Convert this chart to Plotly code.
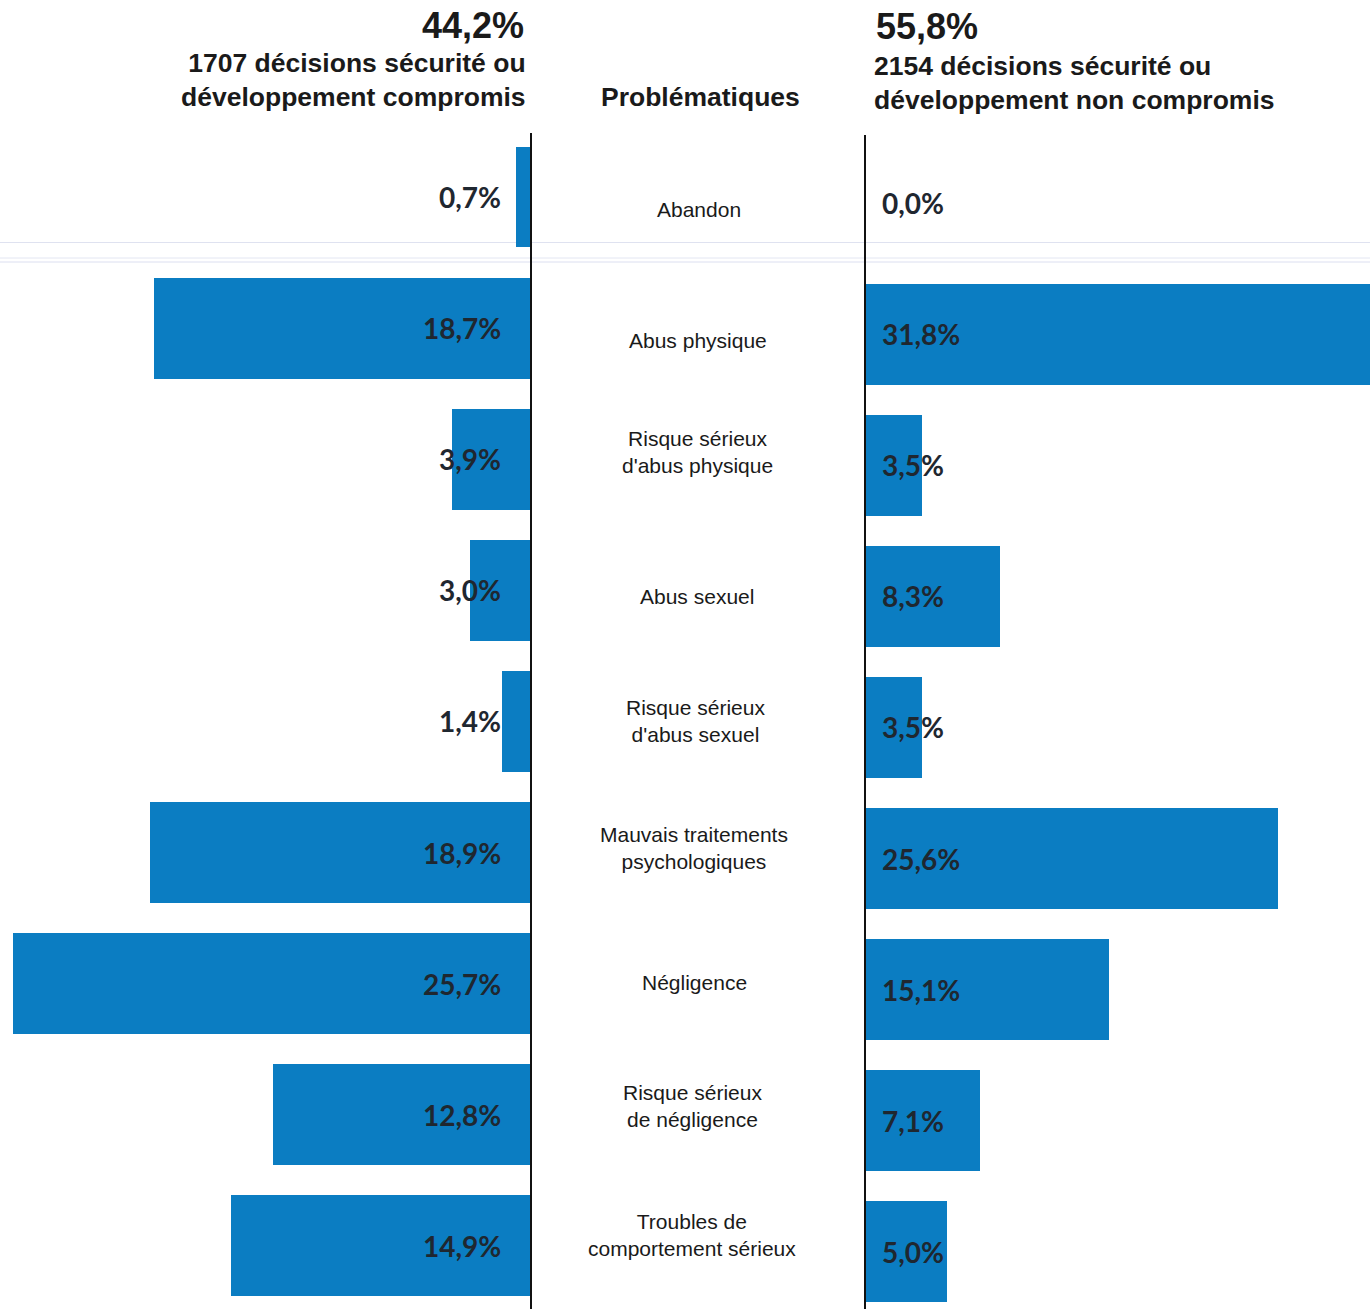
import plotly.graph_objects as go

W, H = 1370, 1309

categories = ["Abandon", "Abus physique", "Risque sérieux<br>d'abus physique", "Abus sexuel",
              "Risque sérieux<br>d'abus sexuel", "Mauvais traitements<br>psychologiques",
              "Négligence", "Risque sérieux<br>de négligence", "Troubles de<br>comportement sérieux"]
compromis = [0.7, 18.7, 3.9, 3.0, 1.4, 18.9, 25.7, 12.8, 14.9]
non_compromis = [0.0, 31.8, 3.5, 8.3, 3.5, 25.6, 15.1, 7.1, 5.0]
pct_compromis = 44.2
pct_non_compromis = 55.8
n_compromis = 1707
n_non_compromis = 2154

BAR = "#0b7dc2"
TXT = "#1a1a1a"
VAL = "#1f2730"

def fmt(v):
    return f"{v:.1f}%".replace(".", ",")

def px(x):
    return x / W

def py(y):
    return 1 - y / H

idx = list(range(len(categories)))

fig = go.Figure()
fig.add_trace(go.Bar(x=compromis, y=idx, orientation="h", marker=dict(color=BAR, line=dict(width=0)),
                     width=0.77, xaxis="x", yaxis="y", hoverinfo="skip"))
fig.add_trace(go.Bar(x=non_compromis, y=idx, orientation="h", marker=dict(color=BAR, line=dict(width=0)),
                     width=0.77, xaxis="x2", yaxis="y2", hoverinfo="skip"))

left_axis_px = 530
right_axis_px = 866
left_scale = 20.1
right_scale = 16.1

vfont = dict(family="Lato, Open Sans, sans-serif", size=28, color=VAL)
ann = []
for i, v in enumerate(compromis):
    ann.append(dict(x=0, y=i, xref="x", yref="y", text="<b>" + fmt(v) + "</b>", showarrow=False,
                    xanchor="right", yanchor="middle", xshift=-27, font=vfont))
for i, v in enumerate(non_compromis):
    ann.append(dict(x=0, y=i, xref="x2", yref="y2", text="<b>" + fmt(v) + "</b>", showarrow=False,
                    xanchor="left", yanchor="middle", xshift=14, font=vfont))

label_yshift = [-13, -12, 7, -6, 0, 5, 1, 9, 11]
label_x = [699, 698, 697, 697, 696, 694, 694, 692, 692]
for i, c in enumerate(categories):
    ann.append(dict(x=px(label_x[i]), y=i, xref="paper", yref="y", text=c, showarrow=False,
                    xanchor="center", yanchor="middle", yshift=label_yshift[i],
                    font=dict(family="Liberation Sans, Arial, sans-serif", size=21, color=TXT)))

hfont = dict(family="Liberation Sans, Arial, sans-serif", color=TXT)
ann += [
    dict(x=px(526), y=py(25), xref="paper", yref="paper", text="<b>" + fmt(pct_compromis) + "</b>",
         showarrow=False, xanchor="right", yanchor="middle", font=dict(size=36, **hfont)),
    dict(x=px(528), y=py(80), xref="paper", yref="paper",
         text=f"<b>{n_compromis} décisions sécurité ou<br>développement compromis</b>",
         showarrow=False, xanchor="right", yanchor="middle", align="right", font=dict(size=26.5, **hfont)),
    dict(x=px(700), y=py(97), xref="paper", yref="paper", text="<b>Problématiques</b>",
         showarrow=False, xanchor="center", yanchor="middle", font=dict(size=26.5, **hfont)),
    dict(x=px(874), y=py(27), xref="paper", yref="paper", text="<b>" + fmt(pct_non_compromis) + "</b>",
         showarrow=False, xanchor="left", yanchor="middle", font=dict(size=36, **hfont)),
    dict(x=px(872), y=py(83), xref="paper", yref="paper",
         text=f"<b>{n_non_compromis} décisions sécurité ou<br>développement non compromis</b>",
         showarrow=False, xanchor="left", yanchor="middle", align="left", font=dict(size=26.5, **hfont)),
]

shapes = [
    dict(type="line", xref="paper", yref="paper", x0=0, x1=1, y0=py(242.5), y1=py(242.5),
         line=dict(color="#dfe2f0", width=1), layer="below"),
    dict(type="line", xref="paper", yref="paper", x0=0, x1=1, y0=py(258), y1=py(258),
         line=dict(color="#e3e6f2", width=1), layer="below"),
    dict(type="line", xref="paper", yref="paper", x0=0, x1=1, y0=py(262), y1=py(262),
         line=dict(color="#dcdff0", width=1), layer="below"),
]

l_top, r_top = 133, 135
l_c0, r_c0, step = 197, 203, 131.1

fig.update_layout(
    width=W, height=H, margin=dict(l=0, r=0, t=0, b=0),
    paper_bgcolor="white", plot_bgcolor="rgba(0,0,0,0)", showlegend=False, bargap=0,
    xaxis=dict(domain=[0, px(left_axis_px)], range=[left_axis_px / left_scale, 0],
               showgrid=False, zeroline=False, showticklabels=False, ticks=""),
    yaxis=dict(domain=[0, py(l_top)], range=[(H - l_c0) / step, (l_top - l_c0) / step],
               anchor="x", side="right", showline=True, linecolor="#111", linewidth=2,
               showgrid=False, zeroline=False, showticklabels=False, ticks=""),
    xaxis2=dict(domain=[px(right_axis_px), 1], range=[0, (W - right_axis_px) / right_scale],
                anchor="y2", showgrid=False, zeroline=False, showticklabels=False, ticks=""),
    yaxis2=dict(domain=[0, py(r_top)], range=[(H - r_c0) / step, (r_top - r_c0) / step],
                anchor="x2", side="left", showline=True, linecolor="#111", linewidth=2,
                showgrid=False, zeroline=False, showticklabels=False, ticks=""),
    annotations=ann, shapes=shapes,
)

fig.write_html("out.html", config={"displayModeBar": False},
               post_script="document.body.style.margin='0';document.body.style.overflow='hidden';")
